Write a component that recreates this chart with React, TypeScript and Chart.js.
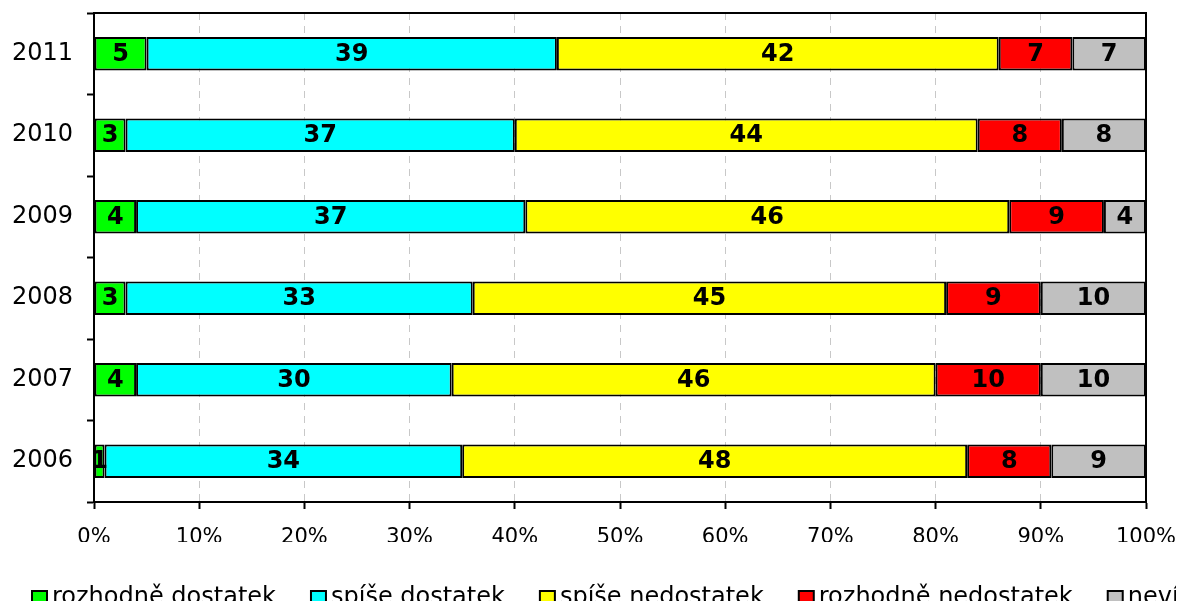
import { useEffect, useRef } from 'react';
import { Chart, registerables } from 'chart.js';
Chart.register(...registerables);

const years = ['2011', '2010', '2009', '2008', '2007', '2006'];
const seriesLabels = ['rozhodně dostatek', 'spíše dostatek', 'spíše nedostatek', 'rozhodně nedostatek', 'neví'];
const rozhodneDostatek = [5, 3, 4, 3, 4, 1];
const spiseDostatek = [39, 37, 37, 33, 30, 34];
const spiseNedostatek = [42, 44, 46, 45, 46, 48];
const rozhodneNedostatek = [7, 8, 9, 9, 10, 8];
const nevi = [7, 8, 4, 10, 10, 9];
const seriesColors = ['#00ff00', '#00ffff', '#ffff00', '#ff0000', '#c0c0c0'];

const FONT = "'DejaVu Sans', Verdana, sans-serif";

const labelPlugin = {
  id: 'barLabels',
  afterDatasetsDraw(chart: any) {
    const ctx = chart.ctx;
    ctx.save();
    ctx.font = `bold 24px ${FONT}`;
    ctx.fillStyle = '#000';
    ctx.textAlign = 'center';
    ctx.textBaseline = 'middle';
    chart.data.datasets.forEach((ds: any, i: number) => {
      const meta = chart.getDatasetMeta(i);
      meta.data.forEach((bar: any, j: number) => {
        const v = ds.data[j];
        const cx = (bar.x + bar.base) / 2;
        ctx.fillText(String(v), cx, bar.y + 1);
      });
    });
    ctx.restore();
  },
};

const framePlugin = {
  id: 'frame',
  afterDraw(chart: any) {
    const { ctx, chartArea } = chart;
    ctx.save();
    ctx.strokeStyle = '#000';
    ctx.lineWidth = 2;
    ctx.beginPath();
    ctx.moveTo(chartArea.left, chartArea.top);
    ctx.lineTo(chartArea.right, chartArea.top);
    ctx.lineTo(chartArea.right, chartArea.bottom);
    ctx.stroke();
    ctx.restore();
  },
};

const legendPlugin = {
  id: 'customLegend',
  afterDraw(chart: any) {
    const ctx = chart.ctx;
    ctx.save();
    ctx.font = `24px ${FONT}`;
    ctx.textBaseline = 'middle';
    ctx.textAlign = 'left';
    let x = 24;
    const y = 590;
    chart.data.datasets.forEach((ds: any) => {
      ctx.fillStyle = ds.backgroundColor;
      ctx.fillRect(x, y - 7, 15, 15);
      ctx.strokeStyle = '#000';
      ctx.lineWidth = 2;
      ctx.strokeRect(x, y - 7, 15, 15);
      ctx.fillStyle = '#000';
      ctx.fillText(ds.label, x + 20, y);
      x += 20 + ctx.measureText(ds.label).width + 35;
    });
    ctx.restore();
  },
};

const zeroPad = (s: any) => {
  s.paddingTop = 0;
  s.paddingBottom = 0;
  s.paddingLeft = 0;
  s.paddingRight = 0;
};

export default function App() {
  const ref = useRef<HTMLCanvasElement | null>(null);
  useEffect(() => {
    if (!ref.current) return;
    const seriesData = [rozhodneDostatek, spiseDostatek, spiseNedostatek, rozhodneNedostatek, nevi];
    const chart = new Chart(ref.current, {
      type: 'bar',
      data: {
        labels: years,
        datasets: seriesLabels.map((label, i) => ({
          label,
          data: seriesData[i],
          backgroundColor: seriesColors[i],
          borderColor: '#000',
          borderWidth: 2,
          borderSkipped: false,
          barPercentage: 0.41,
          categoryPercentage: 1,
        })),
      },
      options: {
        indexAxis: 'y',
        animation: false,
        responsive: true,
        maintainAspectRatio: false,
        layout: { padding: { top: 5, right: 30, bottom: 67, left: 0 } },
        plugins: { legend: { display: false }, tooltip: { enabled: false } },
        scales: {
          x: {
            stacked: true,
            min: 0,
            max: 100,
            ticks: {
              stepSize: 10,
              callback: (v: any) => v + '%',
              color: '#000',
              font: { family: FONT, size: 21 },
              padding: 16,
              maxRotation: 0,
            },
            grid: {
              color: '#c8c8c8',
              lineWidth: 1,
              tickColor: '#000',
              tickWidth: 2,
              tickLength: 7,
            },
            border: { display: true, color: '#000', width: 2, dash: [7, 6] },
            afterFit: (s: any) => { s.height = 40; zeroPad(s); },
          },
          y: {
            stacked: true,
            offset: true,
            ticks: {
              color: '#000',
              font: { family: FONT, size: 24 },
              padding: 14,
            },
            grid: {
              offset: true,
              drawOnChartArea: false,
              tickColor: '#000',
              tickWidth: 2,
              tickLength: 7,
            },
            border: { display: true, color: '#000', width: 2 },
            afterFit: (s: any) => { s.width = 86; zeroPad(s); },
          },
        },
      },
      plugins: [labelPlugin, framePlugin, legendPlugin],
    });
    return () => chart.destroy();
  }, []);
  return (
    <div style={{ width: 1168, height: 601, marginBottom: -8, position: 'relative', overflow: 'hidden' }}>
      <canvas ref={ref} />
    </div>
  );
}
